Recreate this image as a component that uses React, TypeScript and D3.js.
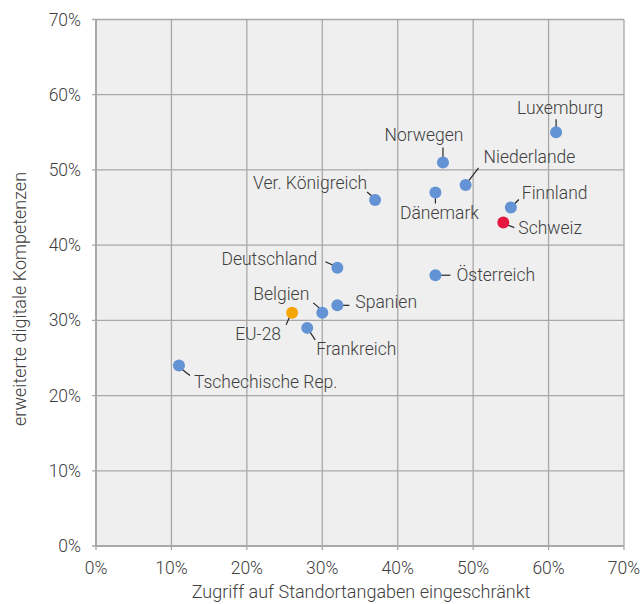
import React from "react";
import * as d3 from "d3";

const countries = ["Tschechische Rep.", "EU-28", "Frankreich", "Belgien", "Spanien", "Deutschland", "Ver. Königreich", "Dänemark", "Norwegen", "Niederlande", "Österreich", "Finnland", "Schweiz", "Luxemburg"];
const standort = [11, 26, 28, 30, 32, 32, 37, 45, 46, 49, 45, 55, 54, 61];
const kompetenz = [24, 31, 29, 31, 32, 37, 46, 47, 51, 48, 36, 45, 43, 55];
const groups = ["eu", "avg", "eu", "eu", "eu", "eu", "eu", "eu", "eu", "eu", "eu", "eu", "ch", "eu"];
const xTicks = [0, 10, 20, 30, 40, 50, 60, 70];
const yTicks = [0, 10, 20, 30, 40, 50, 60, 70];

const colors: Record<string, string> = { eu: "#6393d5", avg: "#f5a500", ch: "#e6183f" };

// label layout: text offset (dx, dy), anchor, leader line from (l1) to (l2) relative to point
const layout: Record<string, { dx: number; dy: number; a: string; l: number[] }> = {
  "Tschechische Rep.": { dx: 15, dy: 17, a: "start", l: [2, 3, 11, 10] },
  "EU-28": { dx: -34, dy: 21, a: "middle", l: [-2, 3, -6, 12] },
  "Frankreich": { dx: 9, dy: 21, a: "start", l: [2, 3, 8, 12] },
  "Belgien": { dx: -13, dy: -19, a: "end", l: [-9, -10, -2, -4] },
  "Spanien": { dx: 18, dy: -3, a: "start", l: [4, 0, 12, 0] },
  "Deutschland": { dx: -20, dy: -9, a: "end", l: [-12, -6, -3, -2] },
  "Ver. Königreich": { dx: -8, dy: -17, a: "end", l: [-8, -8, -2, -3] },
  "Dänemark": { dx: 4, dy: 21, a: "middle", l: [0, 3, 0, 11] },
  "Norwegen": { dx: -19, dy: -27, a: "middle", l: [0, -15, 0, -4] },
  "Niederlande": { dx: 18, dy: -28, a: "start", l: [13, -17, 3, -4] },
  "Österreich": { dx: 21, dy: 0, a: "start", l: [5, 0, 15, 0] },
  "Finnland": { dx: 11, dy: -15, a: "start", l: [8, -8, 2, -2] },
  "Schweiz": { dx: 15, dy: 5, a: "start", l: [3, 2, 11, 5] },
  "Luxemburg": { dx: 4, dy: -24, a: "middle", l: [0, -13, 0, -5] },
};

export default function App() {
  const W = 641, H = 604;
  const left = 96, right = 624, top = 19.5, bottom = 546;
  const x = d3.scaleLinear().domain([0, 70]).range([left, right]);
  const y = d3.scaleLinear().domain([0, 70]).range([bottom, top]);
  const font = "Roboto, sans-serif";
  const textColor = "#404040";
  const grid = "#a8a8a8";
  const fs = 17.5;
  const tfs = 18;

  return (
    <svg width={W} height={H} style={{ position: "absolute", left: 0, top: 0 }} fontFamily={font}>
      <rect x={0} y={0} width={W} height={H} fill="#ffffff" />
      <rect x={left} y={top} width={right - left} height={bottom - top} fill="#efefef" />
      {xTicks.map((t) => (
        <line key={"gx" + t} x1={x(t)} x2={x(t)} y1={top} y2={bottom + 4} stroke={grid} strokeWidth={1.3} />
      ))}
      {yTicks.map((t) => (
        <line key={"gy" + t} x1={left - 4} x2={right} y1={y(t)} y2={y(t)} stroke={grid} strokeWidth={1.3} />
      ))}
      <line x1={left} x2={left} y1={top} y2={bottom} stroke={grid} strokeWidth={2} />
      <line x1={left} x2={right} y1={bottom} y2={bottom} stroke={grid} strokeWidth={2} />
      {yTicks.map((t) => (
        <text key={"ty" + t} x={left - 15} y={y(t)} dominantBaseline="central" textAnchor="end" fontSize={fs} fontWeight={300} fill={textColor}>
          {t + "%"}
        </text>
      ))}
      {xTicks.map((t) => (
        <text key={"tx" + t} x={x(t)} y={568} dominantBaseline="central" textAnchor="middle" fontSize={fs} fontWeight={300} fill={textColor}>
          {t + "%"}
        </text>
      ))}
      <text x={(left + right) / 2 + 1} y={591} dominantBaseline="central" textAnchor="middle" fontSize={tfs} fontWeight={300} fill={textColor}>
        Zugriff auf Standortangaben eingeschränkt
      </text>
      <text transform={`translate(19, 299) rotate(-90)`} dominantBaseline="central" textAnchor="middle" fontSize={tfs} fontWeight={300} fill={textColor}>
        erweiterte digitale Kompetenzen
      </text>
      {countries.map((c, i) => {
        const px = x(standort[i]);
        const py = y(kompetenz[i]);
        const L = layout[c];
        return (
          <g key={c}>
            <line x1={px + L.l[0]} y1={py + L.l[1]} x2={px + L.l[2]} y2={py + L.l[3]} stroke="#262626" strokeWidth={1.2} />
            <circle cx={px} cy={py} r={6} fill={colors[groups[i]]} />
            <text x={px + L.dx} y={py + L.dy} dominantBaseline="central" textAnchor={L.a} fontSize={fs} fontWeight={300} fill={textColor}>
              {c}
            </text>
          </g>
        );
      })}
    </svg>
  );
}
